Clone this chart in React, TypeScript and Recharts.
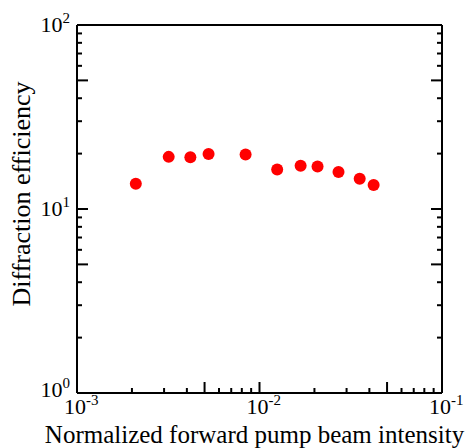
import React from "react"
import { ScatterChart, Scatter, XAxis, YAxis } from "recharts"

// measured points (normalized forward pump beam intensity vs diffraction efficiency)
const intensity = [0.0021, 0.00318, 0.00418, 0.00526, 0.00839, 0.0125, 0.0168, 0.0208, 0.0271, 0.0354, 0.0422]
const efficiency = [13.7, 19.2, 19.1, 19.9, 19.8, 16.4, 17.2, 17.0, 15.9, 14.6, 13.5]

const xTicks = [
  0.001, 0.002, 0.003, 0.004, 0.005, 0.006, 0.007, 0.008, 0.009,
  0.01, 0.02, 0.03, 0.04, 0.05, 0.06, 0.07, 0.08, 0.09, 0.1,
]
const yTicks = [1, 2, 3, 4, 5, 6, 7, 8, 9, 10, 20, 30, 40, 50, 60, 70, 80, 90, 100]

const data = intensity.map((x, i) => ({ x, y: efficiency[i] }))

const FONT = "'Liberation Serif', 'Times New Roman', serif"
const AXIS = { stroke: "#000", strokeWidth: 2 }

function decade(v: number) {
  const e = Math.log10(v)
  const r = Math.round(e)
  return Math.abs(e - r) < 1e-6 ? r : null
}

function tickLen(v: number) {
  const p = Math.floor(Math.log10(v) + 1e-9)
  const m = Math.round(v / Math.pow(10, p))
  return m === 1 || m === 5 ? 11 : 5
}

function BottomTick({ x, y, payload }: any) {
  const v = payload.value
  const e = decade(v)
  return (
    <g>
      <line x1={x} y1={y} x2={x} y2={y - tickLen(v)} stroke="#000" strokeWidth={2} />
      {e !== null && (
        <text x={x - 13} y={y + 21} fontSize={22} fontFamily={FONT} fill="#000">
          10<tspan dy={-9} fontSize={15}>{e}</tspan>
        </text>
      )}
    </g>
  )
}

function TopTick({ x, y, payload }: any) {
  return <line x1={x} y1={y} x2={x} y2={y + tickLen(payload.value)} stroke="#000" strokeWidth={2} />
}

function LeftTick({ x, y, payload }: any) {
  const v = payload.value
  const e = decade(v)
  // the lowest label sits a little higher in the original
  const dy = e === 0 ? 4 : 7
  return (
    <g>
      <line x1={x} y1={y} x2={x + tickLen(v)} y2={y} stroke="#000" strokeWidth={2} />
      {e !== null && (
        <text x={x - 7} y={y + dy} textAnchor="end" fontSize={22} fontFamily={FONT} fill="#000">
          10<tspan dy={-9} fontSize={15}>{e}</tspan>
        </text>
      )}
    </g>
  )
}

function RightTick({ x, y, payload }: any) {
  return <line x1={x} y1={y} x2={x - tickLen(payload.value)} y2={y} stroke="#000" strokeWidth={2} />
}

function XTitle({ viewBox }: any) {
  const { x, y, width } = viewBox
  return (
    <text x={x + width / 2 - 5} y={y + 50} textAnchor="middle" fontSize={25} fontFamily={FONT} fill="#000">
      Normalized forward pump beam intensity
    </text>
  )
}

function YTitle({ viewBox }: any) {
  const { x, y, height } = viewBox
  const cx = x + 30
  const cy = y + height / 2 - 15
  return (
    <text x={cx} y={cy} transform={`rotate(-90, ${cx}, ${cy})`} textAnchor="middle"
      fontSize={26} fontFamily={FONT} fill="#000">
      Diffraction efficiency
    </text>
  )
}

export default function App() {
  return (
    <div style={{ position: "absolute", left: 0, top: 0, background: "#fff" }}>
      <ScatterChart width={468} height={448} margin={{ top: 24, right: 25, bottom: 0, left: 0 }}>
        <XAxis
          dataKey="x"
          type="number"
          scale="log"
          domain={[0.001, 0.1]}
          allowDataOverflow
          ticks={xTicks}
          interval={0}
          height={55}
          tickSize={0}
          tickMargin={0}
          tickLine={false}
          axisLine={AXIS}
          tick={BottomTick}
          label={{ content: XTitle }}
        />
        <XAxis
          xAxisId="top"
          orientation="top"
          type="number"
          scale="log"
          domain={[0.001, 0.1]}
          allowDataOverflow
          ticks={xTicks}
          interval={0}
          height={1}
          tickSize={0}
          tickMargin={0}
          tickLine={false}
          axisLine={AXIS}
          tick={TopTick}
        />
        <YAxis
          dataKey="y"
          type="number"
          scale="log"
          domain={[1, 100]}
          allowDataOverflow
          ticks={yTicks}
          interval={0}
          width={77}
          tickSize={0}
          tickMargin={0}
          tickLine={false}
          axisLine={AXIS}
          tick={LeftTick}
          label={{ content: YTitle }}
        />
        <YAxis
          yAxisId="right"
          orientation="right"
          type="number"
          scale="log"
          domain={[1, 100]}
          allowDataOverflow
          ticks={yTicks}
          interval={0}
          width={1}
          tickSize={0}
          tickMargin={0}
          tickLine={false}
          axisLine={AXIS}
          tick={RightTick}
        />
        <Scatter
          data={data}
          isAnimationActive={false}
          shape={(p: any) => <circle cx={p.cx} cy={p.cy} r={6} fill="#ff0000" />}
        />
      </ScatterChart>
    </div>
  )
}
